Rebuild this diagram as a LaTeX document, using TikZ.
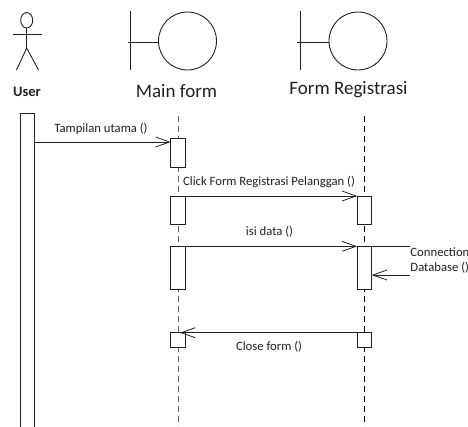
\documentclass[tikz,border=0pt]{standalone}
\usepackage{fontspec}
\setmainfont{Carlito}
\usetikzlibrary{arrows.meta,shapes.geometric}
\definecolor{ink}{gray}{0.13}
\tikzset{
  x=1pt,y=-1pt,
  every path/.style={line width=0.9pt},
  line/.style={draw=ink},
  act/.style={draw=ink,fill=white,minimum width=14.5pt,inner sep=0pt,outer sep=0pt,line width=0.9pt},
  lifeline/.style={dashed,dash pattern=on 6pt off 4pt},
  msg/.style={draw=ink,-{Straight Barb[length=14pt,width=10pt,line width=0.8pt]}},
  lbl/.style={inner sep=0pt,text=ink,font=\fontsize{12.7}{15}\selectfont,anchor=center},
  big/.style={inner sep=0pt,text=ink,font=\fontsize{19}{23}\selectfont},
  boundary/.style={circle,draw=ink,minimum size=58pt,inner sep=0pt,outer sep=0pt},
  headoval/.style={ellipse,draw=ink,minimum width=12pt,minimum height=15.5pt,inner sep=0pt,outer sep=0pt}
}
\begin{document}
\begin{tikzpicture}
\useasboundingbox (0,0) rectangle (468,426);
% user
\node[headoval] (uh) at (26.7,20.3) {};
\coordinate (ub) at (26.7,48);
\coordinate (al) at (13,34);
\coordinate (ar) at (42,34);
\coordinate (ll) at (16.5,70);
\coordinate (lr) at (38.5,70);
\draw[line] (uh.south) -- (ub);
\draw[line] (al) -- (ar);
\draw[line] (ll) -- (ub) -- (lr);
\node[inner sep=0pt,text=ink,font=\fontsize{14.5}{17}\selectfont\bfseries] (ulab) at (27,92) {User};
% main form boundary
\node[boundary] (mc) at (187.5,41) {};
\coordinate (mt) at (130,11);
\coordinate (mb) at (130,69.5);
\coordinate (ms) at (127.5,42.5);
\draw[line] (mt) -- (mb);
\draw[line] (ms) -- (ms -| mc.west);
\node[big] (mlab) at (176.5,91) {Main form};
% form registrasi boundary
\node[boundary] (fc) at (358,41) {};
\coordinate (ft) at (300.7,11);
\coordinate (fb) at (300.7,69.5);
\coordinate (fs) at (297.3,42.5);
\draw[line] (ft) -- (fb);
\draw[line] (fs) -- (fs -| fc.west);
\node[big] (flab) at (348.5,90) {Form Registrasi};
% lifelines
\coordinate (mlt) at (178,116);
\coordinate (mlb) at (178,426);
\coordinate (flt) at (364.5,116);
\coordinate (flb) at (364.5,426);
\draw[lifeline,draw=black!60] (mlt) -- (mlb);
\draw[lifeline,draw=black] (flt) -- (flb);
% user bar
\draw[line,fill=white] (20.5,432) -- (20.5,113.5) -- (34.5,113.5) -- (34.5,432);
\coordinate (u1) at (34.5,142);
% activations
\node[act,minimum height=29pt] (m1) at (178,152.5) {};
\node[act,minimum height=28.7pt] (m2) at (178,210.35) {};
\node[act,minimum height=28.7pt] (f2) at (364.5,210.35) {};
\node[act,minimum height=43pt] (m3) at (178,267.8) {};
\node[act,minimum height=43pt] (f3) at (364.5,267.8) {};
\node[act,minimum height=14.6pt] (m4) at (178,340) {};
\node[act,minimum height=14.6pt] (f4) at (364.5,340) {};
% messages
\draw[msg] (u1) -- (u1 -| m1.west);
\draw[msg] (m2.north east) -- (f2.north west);
\draw[msg] (m3.north east) -- (f3.north west);
\coordinate (cs) at (410,246.3);
\coordinate (ce) at (410,275);
\draw[line] (f3.north east) -- (cs);
\draw[msg] (ce) -- (ce -| f3.east);
\coordinate (ctip) at (180,332.7);
\draw[msg] (f4.north west) -- (ctip);
% labels
\node[lbl] (t1) at (101,129) {Tampilan utama ()};
\node[lbl] (t2) at (269,182) {Click Form Registrasi Pelanggan ()};
\node[lbl] (t3) at (269.5,232) {isi data ()};
\node[lbl,anchor=west] (t4) at (410,252.5) {Connection};
\node[lbl,anchor=west] (t5) at (410,268) {Database ()};
\node[lbl] (t6) at (269,347) {Close form ()};
\end{tikzpicture}
\end{document}
